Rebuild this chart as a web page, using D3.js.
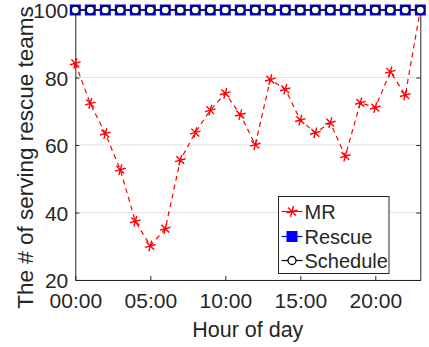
<!DOCTYPE html>
<html>
<head>
<meta charset="utf-8">
<script src="https://cdn.jsdelivr.net/npm/d3@7"></script>
<style>
  body { margin: 0; background: #fff; }
  text { font-family: "Liberation Sans", Arial, sans-serif; fill: #262626; }
</style>
</head>
<body>
<svg width="429" height="347"></svg>
<script>
//	data
var hours = d3.range(0, 24);
var mrValues = [84.2, 72.3, 63.4, 52.7, 37.4, 30.1, 35.2, 55.5, 63.7, 70.3, 75.3, 69.0,
    60.1, 79.4, 76.5, 67.4, 63.6, 66.6, 56.7, 72.5, 71.1, 81.7, 74.8, 100];
var rescueValues = hours.map(function () { return 100; });
var scheduleValues = hours.map(function () { return 100; });
var xTicks = [0, 5, 10, 15, 20];
var xTickLabels = ["00:00", "05:00", "10:00", "15:00", "20:00"];
var yTicks = [20, 40, 60, 80, 100];
var legendNames = ["MR", "Rescue", "Schedule"];

//	svg and sizing
var svg = d3.select("svg"),
        margin = {left: 75.3, right: 8.7, top: 10, bottom: 67},
        width = +svg.attr("width"),
        height = +svg.attr("height");

var x = d3.scaleLinear().domain([0, 23]).range([margin.left, width - margin.right]);
var y = d3.scaleLinear().domain([20, 100]).range([height - margin.bottom, margin.top]);

//	grid
svg.append("g").selectAll("line").data(yTicks).enter().append("line")
        .attr("x1", x(0)).attr("x2", x(23))
        .attr("y1", function (d) { return y(d); })
        .attr("y2", function (d) { return y(d); })
        .attr("stroke", "#e3e3e3").attr("stroke-width", 1);

//	axes
var xAxis = svg.append("g")
        .attr("transform", "translate(0," + y(20) + ")")
        .call(d3.axisBottom(x).tickValues(xTicks)
                .tickFormat(function (d, i) { return xTickLabels[i]; })
                .tickSizeInner(-4).tickSizeOuter(0).tickPadding(13));
var yAxis = svg.append("g")
        .attr("transform", "translate(" + x(0) + ",0)")
        .call(d3.axisLeft(y).tickValues(yTicks).tickSizeInner(-4).tickSizeOuter(0).tickPadding(7));
var yAxisR = svg.append("g")
        .attr("transform", "translate(" + x(23) + ",0)")
        .call(d3.axisRight(y).tickValues(yTicks).tickSizeInner(-4).tickSizeOuter(0).tickFormat(""));
[xAxis, yAxis, yAxisR].forEach(function (a) {
    a.selectAll(".domain").attr("stroke", "#262626");
    a.selectAll(".tick line").attr("stroke", "#262626");
    a.selectAll("text").style("font-size", "21px").attr("fill", "#262626");
});
yAxis.selectAll("text").attr("dy", "0.36em");

//	top border
svg.append("line").attr("x1", x(0)).attr("x2", x(23))
        .attr("y1", y(100)).attr("y2", y(100)).attr("stroke", "#262626");

//	labels
svg.append("text").attr("x", (x(0) + x(23)) / 2).attr("y", 336.5)
        .attr("text-anchor", "middle").style("font-size", "21.5px").text("Hour of day");
svg.append("text").attr("transform", "translate(33,157.5) rotate(-90)")
        .attr("text-anchor", "middle").style("font-size", "22.5px")
        .text("The # of serving rescue teams");

//	marker helpers
var star = d3.symbol().type(d3.symbolAsterisk).size(85);
function drawStar(g, cx, cy) {
    g.append("path").attr("d", star())
            .attr("transform", "translate(" + cx + "," + cy + ") rotate(15)")
            .attr("fill", "none").attr("stroke", "red").attr("stroke-width", 1.4);
}
var line = d3.line().x(function (d, i) { return x(hours[i]); }).y(function (d) { return y(d); });

//	MR series (drawn first, underneath)
svg.append("path").datum(mrValues).attr("d", line)
        .attr("fill", "none").attr("stroke", "red").attr("stroke-width", 1.2)
        .attr("stroke-dasharray", "5,4");
var mrG = svg.append("g");
mrValues.forEach(function (d, i) { drawStar(mrG, x(hours[i]), y(d)); });

//	Rescue series (blue squares)
svg.append("path").datum(rescueValues).attr("d", line)
        .attr("fill", "none").attr("stroke", "blue").attr("stroke-width", 1);
svg.append("g").selectAll("rect").data(rescueValues).enter().append("rect")
        .attr("x", function (d, i) { return x(hours[i]) - 5.5; })
        .attr("y", function (d) { return y(d) - 5.5; })
        .attr("width", 11).attr("height", 11).attr("fill", "blue");

//	Schedule series (black circles)
svg.append("path").datum(scheduleValues).attr("d", line)
        .attr("fill", "none").attr("stroke", "black").attr("stroke-width", 1);
svg.append("g").selectAll("circle").data(scheduleValues).enter().append("circle")
        .attr("cx", function (d, i) { return x(hours[i]); })
        .attr("cy", function (d) { return y(d); })
        .attr("r", 4).attr("fill", "white").attr("stroke", "black").attr("stroke-width", 1.3);

//	legend
var lg = svg.append("g").attr("transform", "translate(278.5,196.5)");
lg.append("rect").attr("width", 110.5).attr("height", 77)
        .attr("fill", "white").attr("stroke", "#262626").attr("stroke-width", 1);
var rowY = [15, 40, 64];
var legendColors = ["red", "blue", "black"];
legendNames.forEach(function (n, i) {
    lg.append("line").attr("x1", 3).attr("x2", 24).attr("y1", rowY[i]).attr("y2", rowY[i])
            .attr("stroke", legendColors[i]).attr("stroke-width", 1.2);
    if (i === 0) drawStar(lg, 13.5, rowY[i]);
    if (i === 1) lg.append("rect").attr("x", 8).attr("y", rowY[i] - 5.5)
            .attr("width", 11).attr("height", 11).attr("fill", "blue");
    if (i === 2) lg.append("circle").attr("cx", 13.5).attr("cy", rowY[i]).attr("r", 4)
            .attr("fill", "white").attr("stroke", "black").attr("stroke-width", 1.3);
    lg.append("text").attr("x", 26).attr("y", rowY[i]).attr("dy", "0.36em")
            .style("font-size", "20px").text(n);
});
</script>
</body>
</html>
